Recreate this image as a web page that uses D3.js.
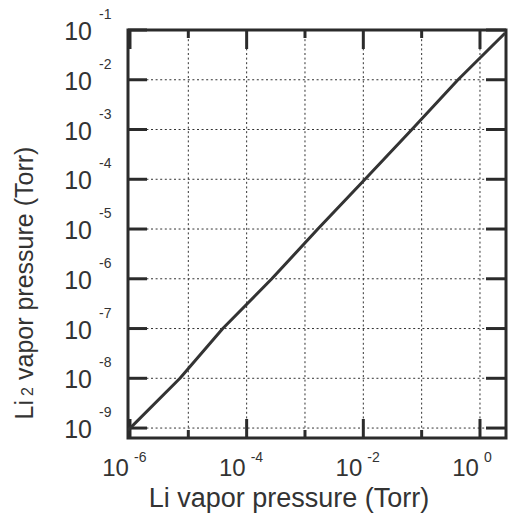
<!DOCTYPE html>
<html lang="en">

<head>
  <meta charset="UTF-8">
  <meta name="viewport" content="width=device-width, initial-scale=1.0">
  <title>Li2 vs Li vapor pressure</title>
  <style>
    * {
      padding: 0;
      margin: 0;
    }

    html,
    body {
      width: 511px;
      height: 520px;
      overflow: hidden;
      background: #fff;
    }

    text {
      font-family: "Liberation Sans", Arial, Helvetica, sans-serif;
      fill: #333;
    }
  </style>
</head>

<body>
  <script src="https://cdn.jsdelivr.net/npm/d3@7"></script>
  <script>
    // Li vapor pressure (Torr), read where the curve crosses each grid line
    const liPressure = [9.3e-7, 7.2e-6, 3.9e-5, 2.7e-4, 1.66e-3, 1.07e-2, 6.8e-2, 0.42, 2.7]
    // Li2 vapor pressure (Torr) at the same points
    const li2Pressure = [9.1e-10, 1e-8, 1e-7, 1e-6, 1e-5, 1e-4, 1e-3, 1e-2, 8.7e-2]
    // decades on each axis
    const xDecades = [-6, -5, -4, -3, -2, -1, 0]
    const xLabelled = [-6, -4, -2, 0]
    const yDecades = [-9, -8, -7, -6, -5, -4, -3, -2, -1]

    const width = 511, height = 520
    const box = { left: 128, right: 506, top: 30, bottom: 438 }

    const svg = d3.select('body').append('svg').attr('width', width).attr('height', height)

    const x = d3.scaleLog().domain([Math.pow(10, -6.034), Math.pow(10, 0.446)]).range([box.left, box.right])
    const y = d3.scaleLog().domain([Math.pow(10, -9.2), 1e-1]).range([box.bottom, box.top])

    // dotted grid at every decade
    const grid = svg.append('g').attr('class', 'grid')
      .attr('stroke', '#333').attr('stroke-width', 1).attr('stroke-dasharray', '2,2.6')
    grid.selectAll('.vx').data(xDecades.filter(d => d > -6)).enter().append('line')
      .attr('x1', d => x(Math.pow(10, d))).attr('x2', d => x(Math.pow(10, d)))
      .attr('y1', box.top).attr('y2', box.bottom)
    grid.selectAll('.hy').data(yDecades.filter(d => d < -1)).enter().append('line')
      .attr('x1', box.left).attr('x2', box.right)
      .attr('y1', d => y(Math.pow(10, d))).attr('y2', d => y(Math.pow(10, d)))

    // ticks, all pointing inward
    const ticks = svg.append('g').attr('stroke', '#2b2b2b').attr('stroke-width', 3)
    xDecades.forEach(d => {
      const len = xLabelled.includes(d) ? 19 : 8
      const px = x(Math.pow(10, d))
      ticks.append('line').attr('x1', px).attr('x2', px).attr('y1', box.bottom).attr('y2', box.bottom - len)
      ticks.append('line').attr('x1', px).attr('x2', px).attr('y1', box.top).attr('y2', box.top + len)
    })
    yDecades.forEach(d => {
      const py = y(Math.pow(10, d))
      ticks.append('line').attr('x1', box.left).attr('x2', box.left + 19).attr('y1', py).attr('y2', py)
      ticks.append('line').attr('x1', box.right).attr('x2', box.right - 20).attr('y1', py).attr('y2', py)
    })

    // frame
    svg.append('rect').attr('x', box.left).attr('y', box.top)
      .attr('width', box.right - box.left).attr('height', box.bottom - box.top)
      .attr('fill', 'none').attr('stroke', '#2b2b2b').attr('stroke-width', 3)

    // the curve
    const line = d3.line().x(d => x(d[0])).y(d => y(d[1]))
    svg.append('path')
      .datum(d3.zip(liPressure, li2Pressure))
      .attr('d', line)
      .attr('fill', 'none').attr('stroke', '#333').attr('stroke-width', 3)
      .attr('stroke-linejoin', 'round')

    // x tick labels: "10" ends at the tick, exponent raised after it
    const xl = svg.append('g')
    xLabelled.forEach(d => {
      const px = x(Math.pow(10, d))
      xl.append('text').attr('x', px - 1).attr('y', 476).attr('text-anchor', 'end')
        .style('font-size', '24px').text('10')
      xl.append('text').attr('x', px + 4).attr('y', 462)
        .style('font-size', '14px').text(d)
    })

    // y tick labels
    const yl = svg.append('g')
    yDecades.forEach(d => {
      const py = y(Math.pow(10, d))
      yl.append('text').attr('x', 92).attr('y', py + 10).attr('text-anchor', 'end')
        .style('font-size', '25px').text('10')
      yl.append('text').attr('x', 99).attr('y', py - 11)
        .style('font-size', '14px').text(d)
    })

    // axis titles
    svg.append('text').attr('x', 289).attr('y', 507).attr('text-anchor', 'middle')
      .style('font-size', '27px').text('Li vapor pressure (Torr)')

    const yt = svg.append('text').attr('transform', 'translate(33, 283) rotate(-90)')
      .attr('text-anchor', 'middle').style('font-size', '25px')
    yt.append('tspan').text('Li')
    yt.append('tspan').style('font-size', '16px').attr('dx', 4).text('2')
    yt.append('tspan').attr('dx', 7).text('vapor pressure (Torr)')
  </script>
</body>

</html>
